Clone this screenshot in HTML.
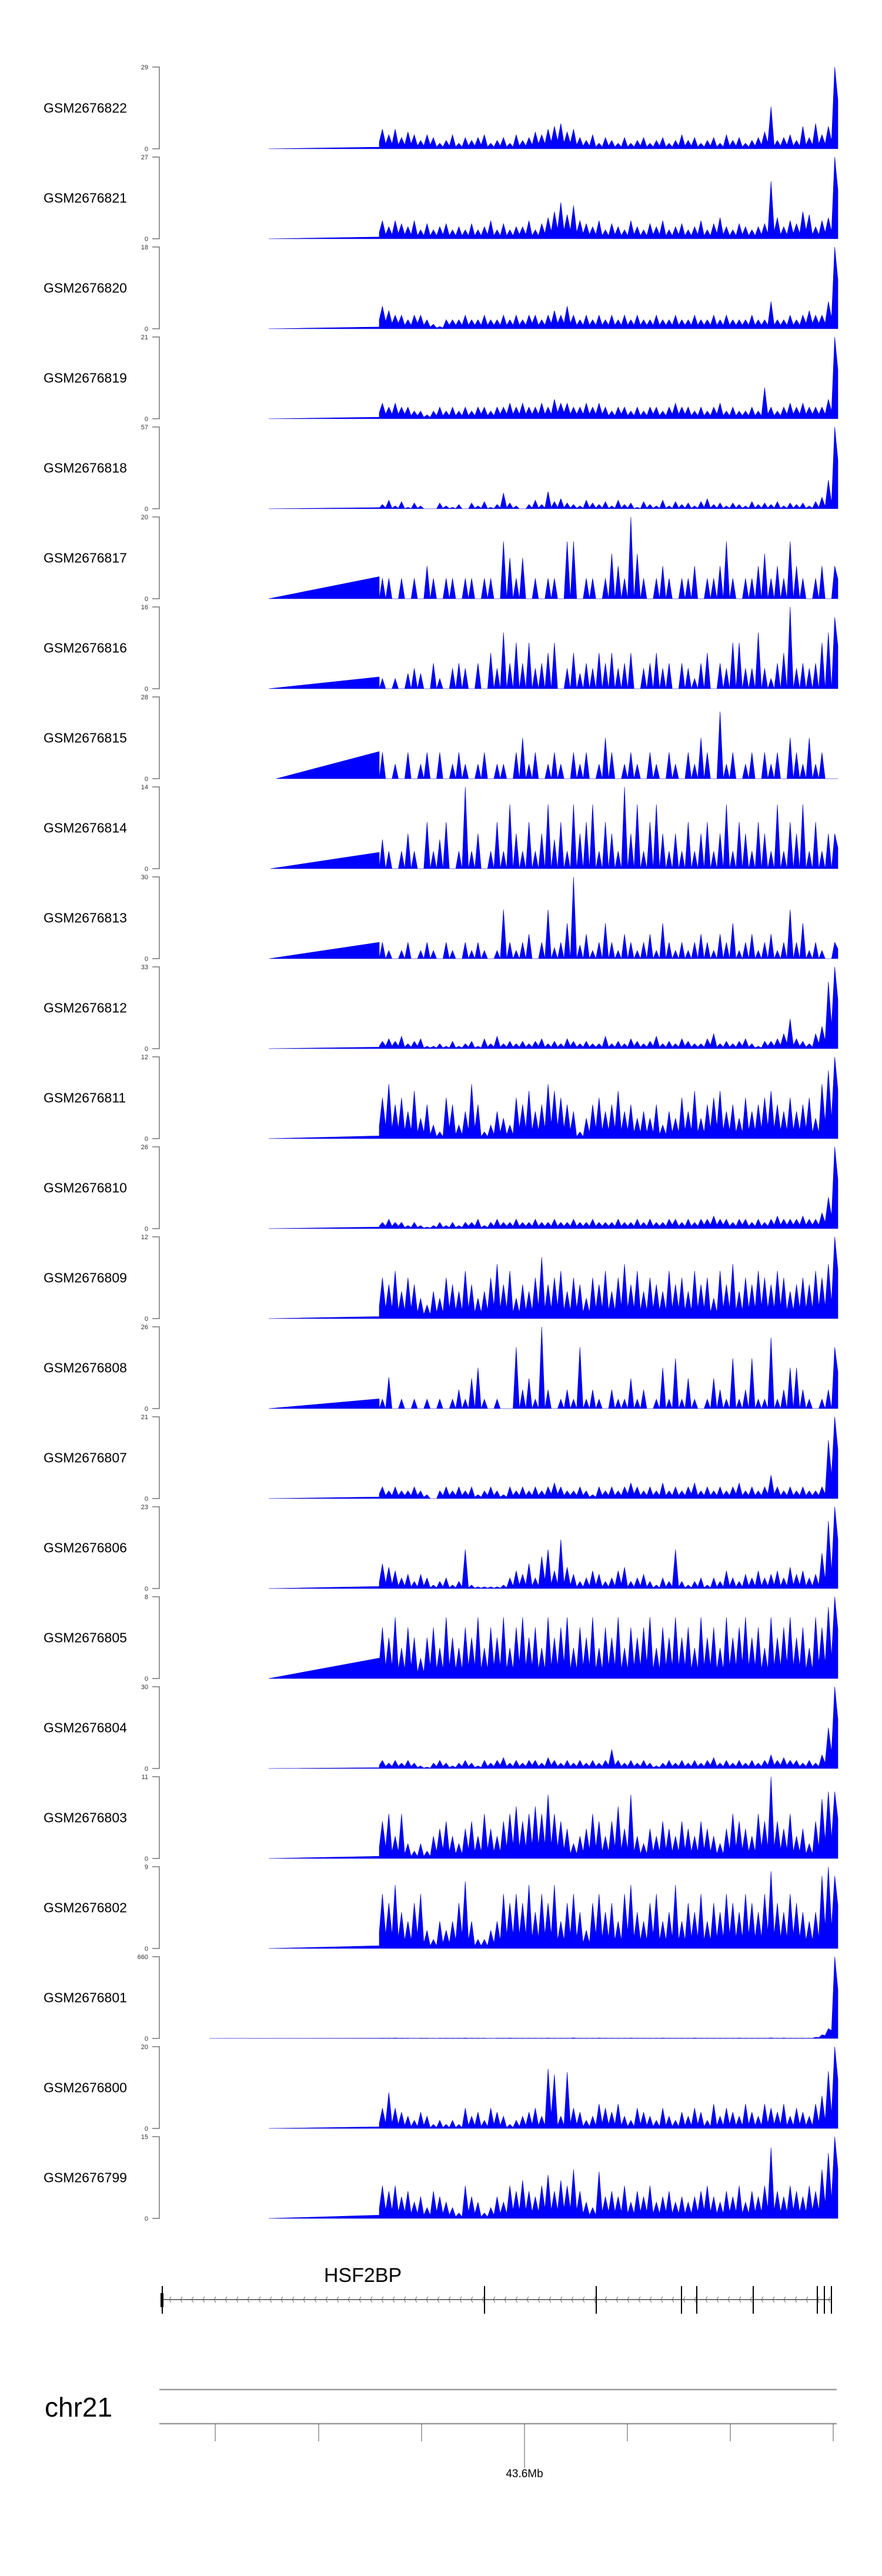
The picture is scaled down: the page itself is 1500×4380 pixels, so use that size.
<!DOCTYPE html>
<html><head><meta charset="utf-8">
<style>
html,body{margin:0;padding:0;background:#fff;}
svg{display:block;}
text{font-family:"Liberation Sans",Arial,sans-serif;}
</style></head>
<body>
<svg id="chart" width="1500" height="4380" viewBox="0 0 1500 4380" xmlns="http://www.w3.org/2000/svg">
<rect x="0" y="0" width="1500" height="4380" fill="#fff"/>
<g id="tracks"></g>
<g id="gene">
  <text x="617" y="3880" font-size="34" text-anchor="middle">HSF2BP</text>
</g>
<g id="ideo">
  <text x="76" y="4109" font-size="46">chr21</text>
</g>
</svg>
<script>
const sampleNames = ["GSM2676822","GSM2676821","GSM2676820","GSM2676819","GSM2676818","GSM2676817","GSM2676816","GSM2676815","GSM2676814","GSM2676813","GSM2676812","GSM2676811","GSM2676810","GSM2676809","GSM2676808","GSM2676807","GSM2676806","GSM2676805","GSM2676804","GSM2676803","GSM2676802","GSM2676801","GSM2676800","GSM2676799"];
const yMax = [29,27,18,21,57,20,16,28,14,30,33,12,26,12,26,21,23,8,30,11,9,660,20,15];
const rampStart = [186,186,186,186,186,186,186,199,189,187,186,186,186,186,186,186,186,186,186,186,186,85,186,186];
const rampValue = [0.6,0.6,0.4,0.4,0.8,5.4,2.3,9.3,2.8,6,0.6,0.4,0.5,0.3,3.1,0.4,0.6,2,0.3,0.3,0.3,2,0.4,0.6];
const dataStart = 374, dataEnd = 1154;
const v0 = [7,5,7,4,6,5,3,5,4,2,3,5, 2,4,3,4,5,2,3,4,2,5,3,4, 6,5,7,8,9,6,7,4,3,5,2,4, 3,2,4,2,3,4,2,3,4,2,3,5, 3,4,2,3,4,2,5,3,4,2,3,4, 6,15,3,4,5,3,8,4,9,5,8,29];
const v1 = [6,4,6,5,4,6,3,5,3,4,5,3, 4,3,5,3,4,6,3,5,3,4,4,6, 3,5,7,9,12,8,11,6,5,4,6,3, 5,4,3,6,4,3,5,4,6,3,4,5, 3,4,6,3,5,7,4,3,5,4,3,4, 5,19,7,4,6,5,9,8,4,6,7,27];
const v2 = [5,4,3,3,2,3,3,2,1,0.5,2,2, 2,3,2,2,3,2,2,3,2,3,2,3, 3,2,3,4,3,5,3,2,3,2,3,2, 3,2,3,2,3,2,2,3,2,2,3,2, 2,3,2,2,3,2,3,2,2,2,3,2, 2,6,2,2,3,2,3,4,3,3,6,18];
const v3 = [4,3,4,3,3,2,2,1,2,3,2,3, 2,3,2,3,3,2,3,3,4,3,4,3, 3,4,3,5,4,4,3,3,4,3,4,3, 2,3,3,2,3,2,3,3,2,3,4,3, 3,2,3,2,3,4,2,3,2,2,3,2, 8,3,2,3,4,3,4,3,3,3,5,21];
const v4 = [3,6,2,5,1,4,2,0,0,4,2,1, 3,0,4,2,5,1,3,11,4,2,0,3, 6,3,12,5,7,4,3,2,6,4,3,5, 2,6,3,4,1,5,3,2,6,2,5,3, 4,2,5,7,3,4,2,4,3,2,5,3, 4,3,5,2,4,3,4,2,5,8,20,57];
const v5 = [5,5,0,5,0,5,0,8,5,0,5,5, 0,5,5,0,5,5,0,14,10,5,10,0, 5,0,5,5,0,14,14,0,5,5,0,5, 11,8,5,20,11,5,0,5,8,5,0,5, 5,8,0,5,5,8,14,5,0,5,5,8, 11,5,8,5,14,8,5,0,5,8,0,8];
const v6 = [2,0,2,0,3,4,3,0,5,2,0,4, 5,4,0,5,0,7,4,11,5,9,5,9, 4,5,7,9,0,4,7,3,5,4,7,5, 7,4,5,7,0,4,5,7,4,5,0,5, 4,2,5,7,0,5,4,9,9,4,4,11, 4,2,5,7,16,4,5,4,5,9,11,14];
const v7 = [9,0,5,0,9,0,5,9,0,9,0,5, 9,5,0,5,9,0,5,5,0,9,14,5, 9,0,5,9,5,0,9,5,9,0,5,14, 9,0,5,9,5,0,9,5,0,9,5,0, 9,5,14,9,0,23,5,9,0,5,9,0, 9,5,9,0,14,9,5,14,5,9,0,0];
const v8 = [5,3,0,3,6,3,0,8,3,5,8,0, 3,14,3,6,0,3,8,3,11,6,3,8, 3,6,11,5,8,3,11,6,8,11,3,8, 6,3,14,6,11,3,8,11,6,3,6,3, 8,3,6,8,3,6,11,3,8,6,3,8, 6,3,11,3,8,6,11,3,8,3,6,6];
const v9 = [6,3,0,3,6,0,3,6,3,0,6,3, 0,6,3,6,3,0,3,18,6,3,6,9, 0,6,18,4,6,13,30,5,9,3,6,13, 6,3,9,6,3,6,9,3,13,6,3,6, 3,6,9,6,3,9,6,13,3,6,9,3, 6,9,3,6,18,6,13,3,6,3,0,6];
const v10 = [3,4,3,5,2,3,4,1,1,2,1,3, 1,2,3,1,4,2,5,2,3,2,3,2, 3,4,2,3,2,4,3,2,3,2,2,5, 2,3,2,4,3,2,3,5,2,3,2,4, 3,2,2,4,6,2,3,2,3,4,2,1, 3,3,4,6,12,4,3,2,6,9,27,33];
const v11 = [6,8,5,6,4,7,3,5,2,1,6,5, 2,4,8,5,1,2,4,3,2,6,5,7, 4,5,8,7,6,5,4,1,3,5,6,4, 5,7,4,5,3,4,3,5,2,4,3,6, 4,7,3,5,6,7,4,5,3,6,4,5, 6,7,5,4,6,4,5,6,3,8,10,12];
const v12 = [2,3,2,2,1,2,1,0.5,1,2,1,2, 1,2,2,3,1,2,3,2,2,3,2,2, 3,2,2,3,2,2,3,2,2,3,2,2, 2,3,2,2,3,2,3,2,2,3,3,2, 3,2,3,3,4,3,3,2,3,3,2,3, 2,3,4,3,3,3,4,3,3,5,10,26];
const v13 = [6,5,7,4,6,5,3,2,4,3,6,5, 4,7,5,3,4,6,8,5,7,3,5,4, 6,9,5,6,7,4,6,5,3,6,5,7, 4,6,8,5,7,4,6,5,4,7,5,6, 4,7,5,6,3,7,5,8,4,6,5,7, 6,5,7,6,4,5,6,5,7,6,8,12];
const v14 = [3,10,0,3,0,3,0,3,0,3,0,3, 6,3,9.6,13,3,0,3,0,0,19.5,6,9.6, 3,26,6,0,3,6,3,19.5,3,6,3,0, 6,3,3,9.6,3,6,0,3,13,3,16,3, 9.6,3,0,3,9.6,6,3,16,3,6,16,3, 3,22.6,3,6,13,13,6,3,0,3,6,19.5];
const v15 = [3,2,3,2,2,3,2,1,0,2,3,2, 3,2,3,1,2,3,2,1,3,2,3,2, 3,2,3,4,3,2,2,3,2,1,3,2, 3,2,3,4,3,2,3,2,4,2,3,2, 3,4,2,3,2,3,2,3,4,2,3,2, 3,6,3,2,3,2,3,2,2,3,15,21];
const v16 = [7,6,5,3,4,2,4,3,1,2,3,1, 2,11,1,0.5,0.5,0.5,0.5,1,3,5,4,7, 3,9,11,5,13.8,6,4,2,3,5,4,2, 3,5,6,2,3,4,2,1,3,2,11,2, 1,2,3,1,3,2,5,3,2,4,3,5, 3,4,5,3,6,4,5,3,4,10,19,23];
const v17 = [5,4,6,3,5,4,2,4,5,3,6,4, 3,5,4,6,3,5,4,6,3,5,6,4, 5,3,6,4,5,6,3,5,4,6,3,5, 4,6,3,5,4,5,6,3,5,4,6,4, 5,3,6,4,5,3,6,4,5,6,4,5, 3,6,4,5,6,4,5,3,6,5,7,8];
const v18 = [3,2,3,2,3,2,1,0.5,2,3,2,1, 2,3,2,1,3,2,3,4,2,3,2,3, 3,2,4,3,2,3,2,3,2,3,2,3, 7,3,2,3,2,3,2,1,2,3,2,3, 2,3,2,3,4,2,3,2,3,2,3,2, 3,5,3,4,3,3,2,3,2,5,15,30];
const v19 = [5,6,3,6,2,1,2,1,3,4,5,3, 2,4,5,3,6,4,3,5,6,7,5,6, 7,6,8.6,6,5,4,2,3,4,6,5,3, 5,7,4,8.6,3,2,4,3,5,4,3,5, 4,3,5,4,3,2,4,6,5,4,3,6, 5,11,5,4,6,3,4,2,5,8,9,9];
const v20 = [6,5,7,4,3,5,6,2,1,3,2,3, 5,7.4,3,1,1,2,3,6,5,6,5,7, 4,6,5,7,3,5,6,4,2,5,6,4, 5,3,6,7,4,3,5,6,3,4,7,3, 5,4,6,3,5,4,6,5,4,6,5,4, 6,8.5,5,4,6,5,4,3,4,8,9,8];
const v21 = [3,3,4,3,3,2,3,3,2,3,3,3, 3,4,3,3,3,2,3,3,4,3,3,3, 3,3,4,3,3,3,5,3,3,3,4,3, 3,3,3,4,3,3,3,3,4,3,3,3, 3,4,3,3,3,3,3,3,4,3,3,3, 3,5,3,4,3,3,3,3,10,30,80,660];
const v22 = [5,8.8,5,4,3,2,4,3,1,2,1,2, 1,5,3,4,2,5,4,3,1,2,3,4, 5,3,14.6,13.2,3,13.8,5,4,2,3,6,5, 4,6,3,2,5,4,3,2,5,3,2,4, 3,5,4,2,6,3,5,4,3,6,4,3, 6,5,4,6,3,5,4,3,6,8,14,20];
const v23 = [6,5,6,4,5,3,4,2,5,4,3,2, 1,6,4,3,1,2,4,3,6,5,7,5, 4,6,8,5,7,6,9,5,3,2,8.6,4, 5,4,6,3,5,4,6,3,4,5,3,4, 3,4,5,6,4,3,5,4,6,3,5,4, 6,13,5,4,6,5,4,6,5,9,12,15];
const seriesValues = [v0,v1,v2,v3,v4,v5,v6,v7,v8,v9,v10,v11,v12,v13,v14,v15,v16,v17,v18,v19,v20,v21,v22,v23];
const valleyFrac = [0.35,0.35,0.4,0.4,0.2,0,0,0,0,0,0.35,0.3,0.4,0.3,0,0.4,0.25,0.3,0.4,0.3,0.3,0.8,0.25,0.3];
const exonPos = [5,553,743,888,914,1010,1119,1131,1143];
const geneStart = 5, geneEnd = 1143;
const axisTicks = [95,271,446,621,796,971,1146];
const majorTickLabel = "43.6Mb";
const majorTickIndex = 3;

const NS = "http://www.w3.org/2000/svg";
const X0 = 271;
function xScale(p){ return X0 + p; }
function mk(tag, attrs, parent){
  const e = document.createElementNS(NS, tag);
  for (const k in attrs) e.setAttribute(k, attrs[k]);
  parent.appendChild(e);
  return e;
}
const tracksG = document.getElementById('tracks');
const TOP0 = 114, STEP = 153, H = 139;

sampleNames.forEach((name, i) => {
  const top = TOP0 + i * STEP, bot = top + H;
  const g = mk('g', {}, tracksG);
  
  
  const yS = v => bot - (v / yMax[i]) * H;

  const lab = mk('text', {x: 74, y: top + H/2 + 8, 'font-size': 23}, g);
  lab.textContent = name;
  
  

  const ax = mk('path', {d: `M259 ${top}H271V${bot}H259`, fill: 'none', stroke: '#777', 'stroke-width': 1.5}, g);
  
  
  const t1 = mk('text', {x: 252, y: top + 4, 'font-size': 11, 'text-anchor': 'end', fill: '#333'}, g);
  t1.textContent = String(yMax[i]);
  
  
  const t0 = mk('text', {x: 252, y: bot + 4, 'font-size': 11, 'text-anchor': 'end', fill: '#333'}, g);
  t0.textContent = '0';
  
  

  const vals = seriesValues[i];
  const n = vals.length;
  const w = (dataEnd - dataStart) / n;
  const vf = valleyFrac[i];
  let d = `M${xScale(rampStart[i])} ${bot}L${xScale(dataStart)} ${yS(rampValue[i])}`;
  d += `L${xScale(dataStart)} ${yS(vals[0]*vf)}`;
  for (let k = 0; k < n; k++) {
    const cx = xScale(dataStart + (k + 0.5) * w);
    d += `L${cx.toFixed(1)} ${yS(vals[k]).toFixed(1)}`;
    if (k < n - 1) {
      const ex = xScale(dataStart + (k + 1) * w);
      d += `L${ex.toFixed(1)} ${yS(Math.min(vals[k], vals[k+1]) * vf).toFixed(1)}`;
    }
  }
  d += `L${xScale(dataEnd)} ${yS(vals[n-1]*0.6)}L${xScale(dataEnd)} ${bot}Z`;
  const area = mk('path', {d: d, fill: '#0000ff', stroke: '#0000c8', 'stroke-width': 0.6}, g);
  
  
});

// gene track
const geneG = document.getElementById('gene');
const gy = 3910;
const gl = mk('line', {x1: xScale(geneStart), x2: xScale(geneEnd), y1: gy, y2: gy, stroke: '#444', 'stroke-width': 1.5}, geneG);


let chev = '';
for (let x = xScale(geneStart) + 12; x < xScale(geneEnd) - 4; x += 19) {
  chev += `M${x+3} ${gy-5}L${x} ${gy}L${x+3} ${gy+5}`;
}
const ch = mk('path', {d: chev, fill: 'none', stroke: '#555', 'stroke-width': 0.8}, geneG);


exonPos.forEach((p, k) => {
  const ex = mk('line', {x1: xScale(p), x2: xScale(p), y1: 3887, y2: 3934, stroke: '#000', 'stroke-width': 2}, geneG);
  
  
});
const ex0 = mk('rect', {x: xScale(geneStart) - 3, y: 3899, width: 5, height: 24, fill: '#000'}, geneG);



// genome axis
const ideo = document.getElementById('ideo');
const l1 = mk('line', {x1: 271, x2: 1423, y1: 4063, y2: 4063, stroke: '#999', 'stroke-width': 2.5}, ideo);


const l2 = mk('line', {x1: 271, x2: 1423, y1: 4121, y2: 4121, stroke: '#999', 'stroke-width': 2.5}, ideo);


axisTicks.forEach((p, k) => {
  const y2 = k === majorTickIndex ? 4196 : 4151;
  const t = mk('line', {x1: xScale(p), x2: xScale(p), y1: 4121, y2: y2, stroke: '#555', 'stroke-width': 1}, ideo);
  
  
});
const tl = mk('text', {x: xScale(axisTicks[majorTickIndex]), y: 4212, 'font-size': 19, 'text-anchor': 'middle'}, ideo);
tl.textContent = majorTickLabel;


</script>
</body></html>
